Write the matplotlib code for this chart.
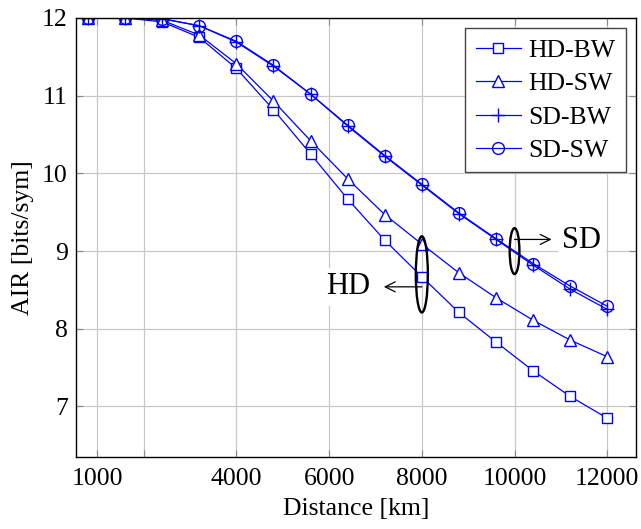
import matplotlib
matplotlib.use("Agg")
import matplotlib.pyplot as plt
from matplotlib.patches import Ellipse

plt.rcParams['font.family'] = ['Liberation Serif', 'DejaVu Serif']
plt.rcParams['mathtext.fontset'] = 'stix'

# Transmission distance [km]
distance = [800, 1600, 2400, 3200, 4000, 4800, 5600, 6400, 7200,
            8000, 8800, 9600, 10400, 11200, 12000]

# Achievable information rate [bits/sym]
hd_bw = [12.0, 12.0, 11.95, 11.75, 11.35, 10.82, 10.25, 9.67, 9.14,
         8.67, 8.21, 7.83, 7.46, 7.13, 6.85]
hd_sw = [12.0, 12.0, 11.97, 11.78, 11.41, 10.93, 10.42, 9.93, 9.47,
         9.09, 8.72, 8.40, 8.11, 7.855, 7.64]
sd_bw = [12.0, 12.0, 11.99, 11.90, 11.69, 11.38, 11.02, 10.61, 10.22,
         9.85, 9.48, 9.15, 8.82, 8.51, 8.25]
sd_sw = [12.0, 12.0, 11.99, 11.90, 11.70, 11.39, 11.02, 10.62, 10.23,
         9.86, 9.49, 9.16, 8.84, 8.55, 8.29]

series_labels = ['HD-BW', 'HD-SW', 'SD-BW', 'SD-SW']

xticks = [1000, 2000, 4000, 6000, 8000, 10000, 12000]
xticklabels = ['1000', '', '4000', '6000', '8000', '10000', '12000']
yticks = [7, 8, 9, 10, 11, 12]

fig = plt.figure(figsize=(6.41, 5.29), dpi=100)
ax = fig.add_axes([0.1186, 0.1361, 0.8736, 0.8299])

blue = '#0000ff'
ax.plot(distance, hd_bw, color=blue, lw=0.9, marker='s', ms=7.5,
        mfc='white', mec=blue, mew=1.0, label=series_labels[0])
ax.plot(distance, hd_sw, color=blue, lw=0.9, marker='^', ms=8.5,
        mfc='white', mec=blue, mew=1.0, label=series_labels[1])
ax.plot(distance, sd_bw, color=blue, lw=0.9, marker='+', ms=10,
        mec=blue, mew=1.0, label=series_labels[2])
ax.plot(distance, sd_sw, color=blue, lw=0.9, marker='o', ms=8.5,
        mfc='none', mec=blue, mew=1.0, label=series_labels[3])

ax.set_xlim(540, 12620)
ax.set_ylim(6.35, 12.0)
ax.set_xticks(xticks)
ax.set_xticklabels(xticklabels)
ax.set_yticks(yticks)

ax.grid(True, color='#c8c8c8', lw=0.9)
ax.set_axisbelow(True)
ax.tick_params(direction='in', length=5, width=0.8, color='#888888',
               top=True, right=True, labelsize=18.5)
ax.tick_params(axis='x', pad=8)
ax.tick_params(axis='y', pad=6)
for s in ax.spines.values():
    s.set_linewidth(1.0)
    s.set_color('black')

ax.set_xlabel('Distance [km]', fontsize=18.5, labelpad=6)
ax.set_ylabel('AIR [bits/sym]', fontsize=18.5, labelpad=6)

leg = ax.legend(loc='upper right', fontsize=18.5, frameon=True, fancybox=False,
                edgecolor='#444444', framealpha=1.0, handlelength=1.75,
                handletextpad=0.3, labelspacing=0.41, borderpad=0.4,
                borderaxespad=0.4)
leg.get_frame().set_linewidth(1.0)

# Group markers: ellipses around the HD and SD curves
ax.add_patch(Ellipse((8000, 8.70), 260, 0.98, fill=False, ec='black',
                     lw=1.7, zorder=5))
ax.add_patch(Ellipse((10000, 9.0), 210, 0.59, fill=False, ec='black',
                     lw=1.7, zorder=5))

ax.annotate('', xy=(7180, 8.54), xytext=(8000, 8.54),
            arrowprops=dict(arrowstyle='->', color='black', lw=0.9,
                            mutation_scale=18, shrinkA=0, shrinkB=0),
            zorder=5)
ax.annotate('', xy=(10800, 9.15), xytext=(10000, 9.15),
            arrowprops=dict(arrowstyle='->', color='black', lw=0.9,
                            mutation_scale=18, shrinkA=0, shrinkB=0),
            zorder=5)

ax.text(6417, 8.54, 'HD', fontsize=22, ha='center', va='center',
        bbox=dict(boxstyle='square,pad=0.15', fc='white', ec='none'), zorder=4)
ax.text(11449, 9.14, 'SD', fontsize=22, ha='center', va='center',
        bbox=dict(boxstyle='square,pad=0.15', fc='white', ec='none'), zorder=4)

fig.savefig('out.png', dpi=100)
